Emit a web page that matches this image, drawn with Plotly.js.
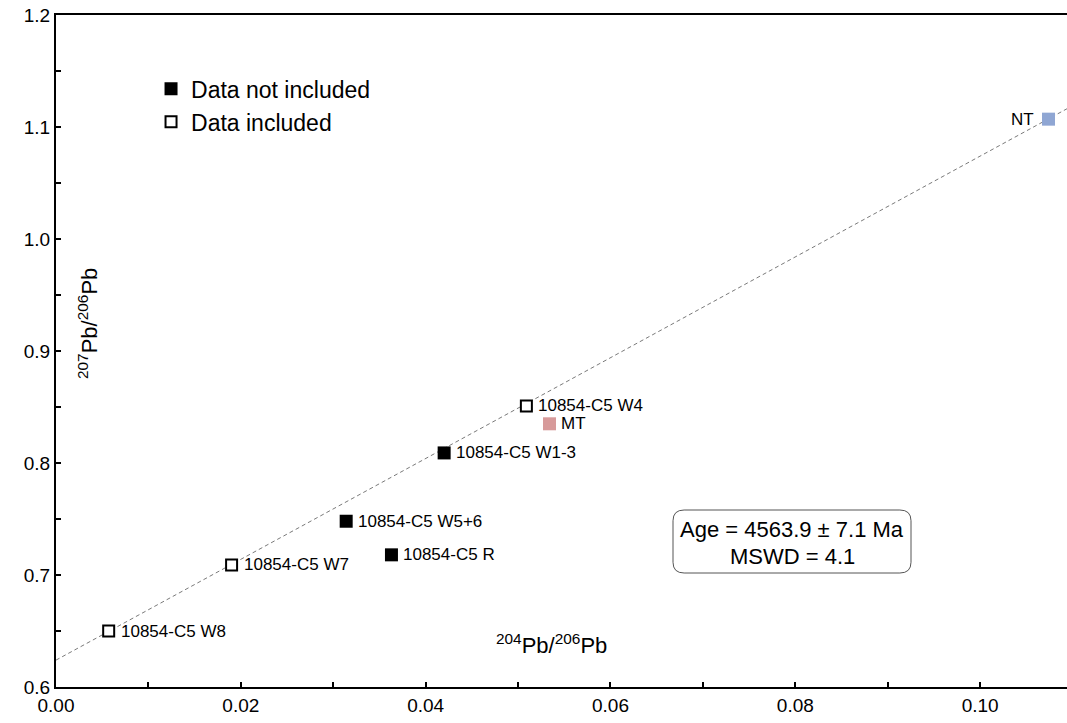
<!DOCTYPE html>
<html>
<head>
<meta charset="utf-8">
<script src="https://cdn.plot.ly/plotly-3.0.1.min.js"></script>
<style>html,body{margin:0;padding:0;background:#fff;}#chart{width:1067px;height:723px;}</style>
</head>
<body>
<div id="chart"></div>
<script>
// Data
const includedNames = ["10854-C5 W8", "10854-C5 W7", "10854-C5 W4"];
const includedX = [0.0057, 0.0190, 0.0509];
const includedY = [0.650, 0.709, 0.851];

const excludedNames = ["10854-C5 W5+6", "10854-C5 R", "10854-C5 W1-3"];
const excludedX = [0.0314, 0.0363, 0.0420];
const excludedY = [0.748, 0.718, 0.809];

const mtName = "MT", mtX = [0.0534], mtY = [0.835];
const ntName = "NT", ntX = [0.1074], ntY = [1.107];

const isochronX = [0, 0.1094];
const isochronY = [0.624, 1.1163];

const ageText = "Age = 4563.9 ± 7.1 Ma";
const mswdText = "MSWD = 4.1";

const FONT = "Liberation Sans, Arial, sans-serif";

const traces = [
  {x: isochronX, y: isochronY, mode: "lines", showlegend: false, hoverinfo: "skip",
   line: {color: "#7a7a7a", width: 1, dash: "4px,3px"}},
  {x: excludedX, y: excludedY, mode: "markers", name: "Data not included",
   marker: {symbol: "square", size: 13, color: "#000", line: {width: 0}}},
  {x: includedX, y: includedY, mode: "markers", name: "Data included",
   marker: {symbol: "square", size: 11, color: "#fff", line: {width: 2, color: "#000"}}},
  {x: mtX, y: mtY, mode: "markers", showlegend: false,
   marker: {symbol: "square", size: 13, color: "#d79a9a"}},
  {x: ntX, y: ntY, mode: "markers", showlegend: false,
   marker: {symbol: "square", size: 13, color: "#8fa6d3"}}
];

const annotations = [];
function addLabels(names, xs, ys, side) {
  names.forEach((n, i) => {
    annotations.push({x: xs[i], y: ys[i], xref: "x", yref: "y", text: n, showarrow: false,
      xanchor: side === "left" ? "right" : "left", xshift: side === "left" ? -13 : 10,
      font: {family: FONT, size: 17, color: "#000"}});
  });
}
addLabels(includedNames, includedX, includedY, "right");
addLabels(excludedNames, excludedX, excludedY, "right");
addLabels([mtName], mtX, mtY, "right");
addLabels([ntName], ntX, ntY, "left");

// axis titles drawn inside the plot
annotations.push({xref: "paper", yref: "paper", x: (88 - 56) / 1011, y: (687 - 324) / 672, showarrow: false, textangle: -90,
  xanchor: "center", yanchor: "middle",
  text: "<sup>207</sup>Pb/<sup>206</sup>Pb", font: {family: FONT, size: 22, color: "#000"}});
annotations.push({xref: "paper", yref: "paper", x: (551 - 56) / 1011, y: (687 - 644) / 672, showarrow: false,
  xanchor: "center", yanchor: "middle",
  text: "<sup>204</sup>Pb/<sup>206</sup>Pb", font: {family: FONT, size: 22, color: "#000"}});

// result box
annotations.push({xref: "paper", yref: "paper", x: (792 - 56) / 1011, y: (687 - 529) / 672, showarrow: false,
  xanchor: "center", yanchor: "middle",
  text: ageText, font: {family: FONT, size: 22, color: "#000"}});
annotations.push({xref: "paper", yref: "paper", x: (792 - 56) / 1011, y: (687 - 556) / 672, showarrow: false,
  xanchor: "center", yanchor: "middle",
  text: mswdText, font: {family: FONT, size: 22, color: "#000"}});

function roundedRect(x0, y0, x1, y1, rx, ry) {
  return `M ${x0 + rx},${y0} L ${x1 - rx},${y0} Q ${x1},${y0} ${x1},${y0 + ry} ` +
         `L ${x1},${y1 - ry} Q ${x1},${y1} ${x1 - rx},${y1} ` +
         `L ${x0 + rx},${y1} Q ${x0},${y1} ${x0},${y1 - ry} ` +
         `L ${x0},${y0 + ry} Q ${x0},${y0} ${x0 + rx},${y0} Z`;
}

const layout = {
  width: 1067, height: 723,
  margin: {l: 56, r: 0, t: 15, b: 36},
  paper_bgcolor: "#fff", plot_bgcolor: "#fff",
  font: {family: FONT, color: "#000"},
  showlegend: true,
  legend: {x: 0.094, y: 0.922, xanchor: "left", yanchor: "top", bgcolor: "rgba(0,0,0,0)",
           font: {family: FONT, size: 23, color: "#000"}, itemwidth: 30, tracegroupgap: 0},
  xaxis: {range: [0, 0.1094], dtick: 0.02, tick0: 0, tickformat: ".2f",
          showgrid: false, zeroline: false, showline: true, linecolor: "#000", linewidth: 2,
          mirror: true, ticks: "inside", ticklen: 5, tickwidth: 2, tickcolor: "#000",
          minor: {dtick: 0.01, ticks: "inside", ticklen: 5, tickwidth: 2, tickcolor: "#000", showgrid: false},
          tickfont: {family: FONT, size: 19, color: "#000"}, fixedrange: true},
  yaxis: {range: [0.6, 1.2], dtick: 0.1, tick0: 0.6, tickformat: ".1f",
          showgrid: false, zeroline: false, showline: true, linecolor: "#000", linewidth: 2,
          mirror: false, ticks: "inside", ticklen: 5, tickwidth: 2, tickcolor: "#000",
          minor: {dtick: 0.05, ticks: "inside", ticklen: 5, tickwidth: 2, tickcolor: "#000", showgrid: false},
          tickfont: {family: FONT, size: 19, color: "#000"}, fixedrange: true},
  annotations: annotations,
  shapes: [{type: "path", xref: "paper", yref: "paper",
            path: roundedRect((673 - 56) / 1011, (687 - 573) / 672, (911 - 56) / 1011, (687 - 510) / 672, 0.011, 0.016),
            line: {color: "#555", width: 1}, fillcolor: "rgba(0,0,0,0)"}]
};

Plotly.newPlot("chart", traces, layout, {displayModeBar: false, staticPlot: true});
</script>
</body>
</html>
